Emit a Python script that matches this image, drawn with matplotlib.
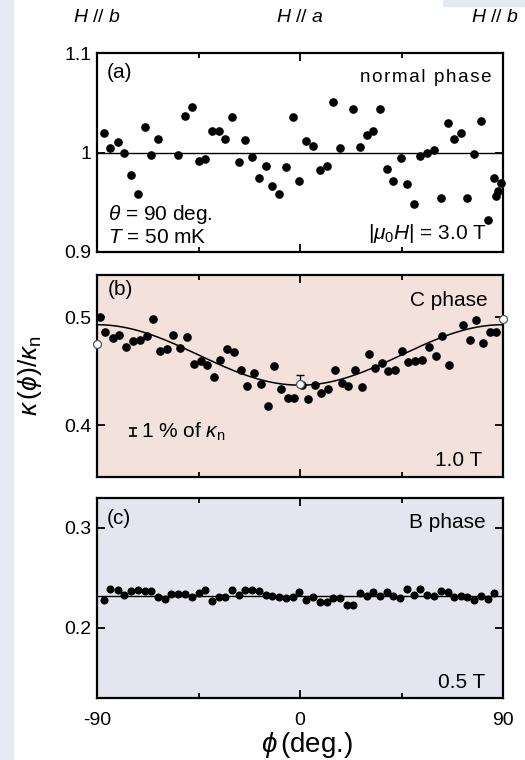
import numpy as np
import matplotlib
matplotlib.use("Agg")
import matplotlib.pyplot as plt
from matplotlib.patches import Rectangle

plt.rcParams['font.family'] = ['Liberation Sans', 'DejaVu Sans']
plt.rcParams['mathtext.fontset'] = 'custom'
plt.rcParams['mathtext.rm'] = 'Liberation Sans'
plt.rcParams['mathtext.it'] = 'Liberation Sans:italic'
plt.rcParams['axes.unicode_minus'] = False

# (a) normal phase, 3.0 T
phiA = [-87.0, -84.1, -80.9, -77.9, -74.9, -71.9, -68.9, -66.0, -62.9, -54.0,
        -51.1, -48.1, -45.0, -42.1, -39.1, -36.1, -33.2, -30.1, -27.1, -24.2,
        -21.2, -18.1, -15.2, -12.2, -9.1, -6.2, -3.2, -0.3, 2.7, 5.9,
        8.8, 11.8, 14.8, 17.7, 23.6, 26.6, 29.5, 32.5, 35.4, 38.4,
        41.3, 44.6, 47.5, 50.5, 53.4, 56.3, 59.3, 62.3, 65.4, 68.3,
        71.3, 74.2, 77.2, 80.4, 83.2, 86.1, 87.0, 87.9, 89.2]
kapA = [1.0195, 1.005, 1.011, 1.000, 0.977, 0.958, 1.026, 0.997, 1.014, 0.997,
        1.037, 1.046, 0.991, 0.993, 1.022, 1.022, 1.014, 1.036, 0.990, 1.013,
        0.995, 0.974, 0.986, 0.966, 0.958, 0.985, 1.036, 0.971, 1.012, 1.007,
        0.982, 0.986, 1.051, 1.005, 1.044, 1.006, 1.018, 1.022, 1.044, 0.983,
        0.971, 0.994, 0.968, 0.948, 0.996, 1.000, 1.003, 0.954, 1.030, 1.014,
        1.020, 0.954, 0.998, 1.032, 0.932, 0.974, 0.956, 0.961, 0.969]
levelA = 1.0

# (b) C phase, 1.0 T
phiB = [-88.5, -86.3, -83.1, -80.1, -77.0, -74.1, -71.1, -68.0, -65.1, -62.1,
        -59.0, -56.1, -53.1, -50.2, -47.1, -44.1, -41.2, -38.2, -35.3, -32.2,
        -29.2, -26.3, -23.3, -20.4, -17.3, -14.3, -11.4, -8.4, -5.5, -2.5,
        0.7, 3.5, 6.5, 9.4, 12.5, 15.5, 18.4, 21.4, 24.5, 27.4,
        30.4, 33.3, 36.3, 39.2, 42.2, 45.1, 48.1, 51.0, 54.0, 57.0,
        60.2, 63.1, 66.1, 72.3, 75.2, 78.2, 81.1, 84.1, 87.0]
kapB = [0.500, 0.4858, 0.4806, 0.4837, 0.4723, 0.4775, 0.4791, 0.4822, 0.4982, 0.4686,
        0.4705, 0.4831, 0.4717, 0.4815, 0.4569, 0.4591, 0.4560, 0.4446, 0.4606, 0.4708,
        0.4680, 0.4514, 0.4360, 0.4483, 0.4382, 0.4179, 0.4545, 0.4335, 0.4255, 0.4255,
        0.4369, 0.4240, 0.4369, 0.4298, 0.4338, 0.4508, 0.4391, 0.4363, 0.4508, 0.4357,
        0.4661, 0.4526, 0.4575, 0.4502, 0.4514, 0.4683, 0.4588, 0.4594, 0.4600, 0.4723,
        0.4637, 0.4828, 0.4554, 0.4929, 0.4785, 0.4969, 0.4760, 0.4862, 0.4862]
# open symbols at H//b and H//a
phiBopen = [-90, 0, 90]
kapBopen = [0.475, 0.438, 0.498]
# fit: kappa = offset + amp * cos(2 phi)
fitOffset = 0.465
fitAmp = -0.028

# (c) B phase, 0.5 T
phiC = [-87.0, -84.1, -80.9, -77.9, -74.9, -71.9, -68.9, -66.0, -62.9, -59.9,
        -57.0, -54.0, -51.1, -48.1, -45.0, -42.1, -39.1, -36.1, -33.2, -30.1,
        -27.1, -24.2, -21.2, -18.1, -15.2, -12.2, -9.1, -6.2, -3.2, -0.3,
        2.7, 5.9, 8.8, 11.8, 14.8, 17.7, 20.7, 23.6, 26.6, 29.5,
        32.5, 35.4, 38.4, 41.3, 44.3, 47.5, 50.5, 53.4, 56.3, 59.3,
        62.3, 65.4, 68.3, 71.3, 74.2, 77.2, 80.4, 83.2, 86.1]
kapC = [0.2283, 0.2390, 0.2383, 0.2330, 0.2367, 0.2383, 0.2373, 0.2370, 0.2310, 0.2293,
        0.2337, 0.2343, 0.2340, 0.2307, 0.2347, 0.2383, 0.2270, 0.2310, 0.2310, 0.2377,
        0.2330, 0.2383, 0.2383, 0.2373, 0.2330, 0.2323, 0.2310, 0.2300, 0.2310, 0.2360,
        0.2283, 0.2310, 0.2260, 0.2260, 0.2303, 0.2303, 0.2233, 0.2233, 0.2350, 0.2317,
        0.2363, 0.2317, 0.2357, 0.2317, 0.2300, 0.2390, 0.2330, 0.2393, 0.2330, 0.2323,
        0.2373, 0.2363, 0.2307, 0.2323, 0.2310, 0.2283, 0.2323, 0.2290, 0.2350]
levelC = 0.2323

# axis ticks
yticksA = [0.9, 1.0, 1.1]
ylabelsA = ['0.9', '1', '1.1']
yticksB = [0.4, 0.5]
ylabelsB = ['0.4', '0.5']
yticksC = [0.2, 0.3]
ylabelsC = ['0.2', '0.3']
xticks = [-90, 0, 90]
xlabels = ['-90', '0', '90']
topLabels = ['b', 'a', 'b']


def spaced(s, gap='\u200a'):
    # letter-spaced text, $...$ parts left alone
    parts = s.split('$')
    for i in range(0, len(parts), 2):
        parts[i] = gap.join(parts[i])
    return '$'.join(parts)


fig = plt.figure(figsize=(5.25, 7.6), dpi=100)
# light blue strip at the left edge of the page
fig.patches.append(Rectangle((0, 0), 13 / 525, 1, transform=fig.transFigure,
                             color='#e4eaf2', zorder=0))
fig.patches.append(Rectangle((443 / 525, 1 - 6 / 760), 82 / 525, 6 / 760,
                             transform=fig.transFigure, color='#e4eaf2', zorder=0))

left, width = 97 / 525, 406 / 525
axA = fig.add_axes([left, 1 - 252 / 760, width, 199 / 760])
axB = fig.add_axes([left, 1 - 477 / 760, width, 202 / 760], facecolor='#f3e1db')
axC = fig.add_axes([left, 1 - 698 / 760, width, 200 / 760], facecolor='#e5e5f0')

tickfs = 14
for ax in (axA, axB, axC):
    ax.set_xlim(-90, 90)
    ax.set_xticks(xticks)
    ax.set_xticks([-45, 45], minor=True)
    ax.tick_params(which='both', direction='in', top=True, right=True, width=1.3)
    ax.tick_params(which='major', length=6, labelsize=tickfs, pad=4)
    ax.tick_params(which='minor', length=3.5)
    for s in ax.spines.values():
        s.set_linewidth(1.6)
    ax.set_xticklabels([])

axA.set_ylim(0.9, 1.1)
axA.set_yticks(yticksA)
axA.set_yticklabels(ylabelsA)
axB.set_ylim(0.352, 0.539)
axB.set_yticks(yticksB)
axB.set_yticklabels(ylabelsB)
axC.set_ylim(0.13, 0.33)
axC.set_yticks(yticksC)
axC.set_yticklabels(ylabelsC)
axC.set_xticklabels(xlabels)
axC.tick_params(axis='x', pad=10)

ms = 5.2
fs = 15
# panel (a)
axA.axhline(levelA, color='black', lw=1.0, zorder=1)
axA.plot(phiA, kapA, 'o', color='black', ms=ms, zorder=3, clip_on=False)
axA.text(0.025, 0.90, '(a)', transform=axA.transAxes, fontsize=fs, va='center')
axA.text(0.972, 0.875, spaced('normal phase'), transform=axA.transAxes,
         fontsize=13.5, ha='right', va='center')
axA.text(0.027, 0.19, r'$\theta$ = 90 deg.', transform=axA.transAxes,
         fontsize=fs, va='center')
axA.text(0.027, 0.075, r'$T$ = 50 mK', transform=axA.transAxes,
         fontsize=fs, va='center')
axA.text(0.961, 0.095, r'$|\mu_0 H|$ = 3.0 T', transform=axA.transAxes,
         fontsize=fs, ha='right', va='center')
# direction labels above panel (a); the right one is pushed in so it stays on the page
for x, lab in zip(xticks, topLabels):
    t = axA.text(x, 1.18, r'$H$ // $' + lab + '$', transform=axA.get_xaxis_transform(),
                 fontsize=14, ha='center', va='center')
    if x == xticks[-1]:
        t.set_x(86.5)

# panel (b)
phiFit = np.linspace(-90, 90, 181)
axB.plot(phiFit, fitOffset + fitAmp * np.cos(np.radians(2 * phiFit)), color='black', lw=1.1, zorder=2)
axB.plot(phiB, kapB, 'o', color='black', ms=ms, zorder=3, clip_on=False)
axB.errorbar([0], [kapBopen[1]], yerr=[[0], [0.008]], fmt='none', ecolor='black',
             elinewidth=0.9, capsize=3, zorder=3)
axB.plot(phiBopen, kapBopen, 'o', mfc='white', mec='#555555', mew=0.9, ms=ms + 0.5,
         zorder=4, clip_on=False)
axB.errorbar([-74], [0.3935], yerr=0.0035, fmt='none', ecolor='black', elinewidth=1.2,
             capsize=3, capthick=1.2)
axB.text(-70.5, 0.3935, r'1 % of $\kappa_{\rm n}$', fontsize=fs, va='center')
axB.text(0.027, 0.926, '(b)', transform=axB.transAxes, fontsize=fs, va='center')
axB.text(0.961, 0.876, 'C phase', transform=axB.transAxes, fontsize=fs,
         ha='right', va='center')
axB.text(0.948, 0.084, '1.0 T', transform=axB.transAxes, fontsize=fs,
         ha='right', va='center')

# panel (c)
axC.axhline(levelC, color='black', lw=1.0, zorder=1)
axC.plot(phiC, kapC, 'o', color='black', ms=ms - 0.4, zorder=3)
axC.text(0.025, 0.90, '(c)', transform=axC.transAxes, fontsize=fs, va='center')
axC.text(0.956, 0.875, 'B phase', transform=axC.transAxes, fontsize=fs,
         ha='right', va='center')
axC.text(0.956, 0.08, '0.5 T', transform=axC.transAxes, fontsize=fs,
         ha='right', va='center')

fig.text(30 / 525, 1 - 376 / 760, r'$\kappa\,(\phi)/\kappa_{\rm n}$', rotation=90,
         fontsize=19, ha='center', va='center')
fig.text(307 / 525, 1 - 745 / 760, r'$\phi\,$(deg.)', fontsize=20,
         ha='center', va='center')

fig.savefig('out.png', dpi=100)
